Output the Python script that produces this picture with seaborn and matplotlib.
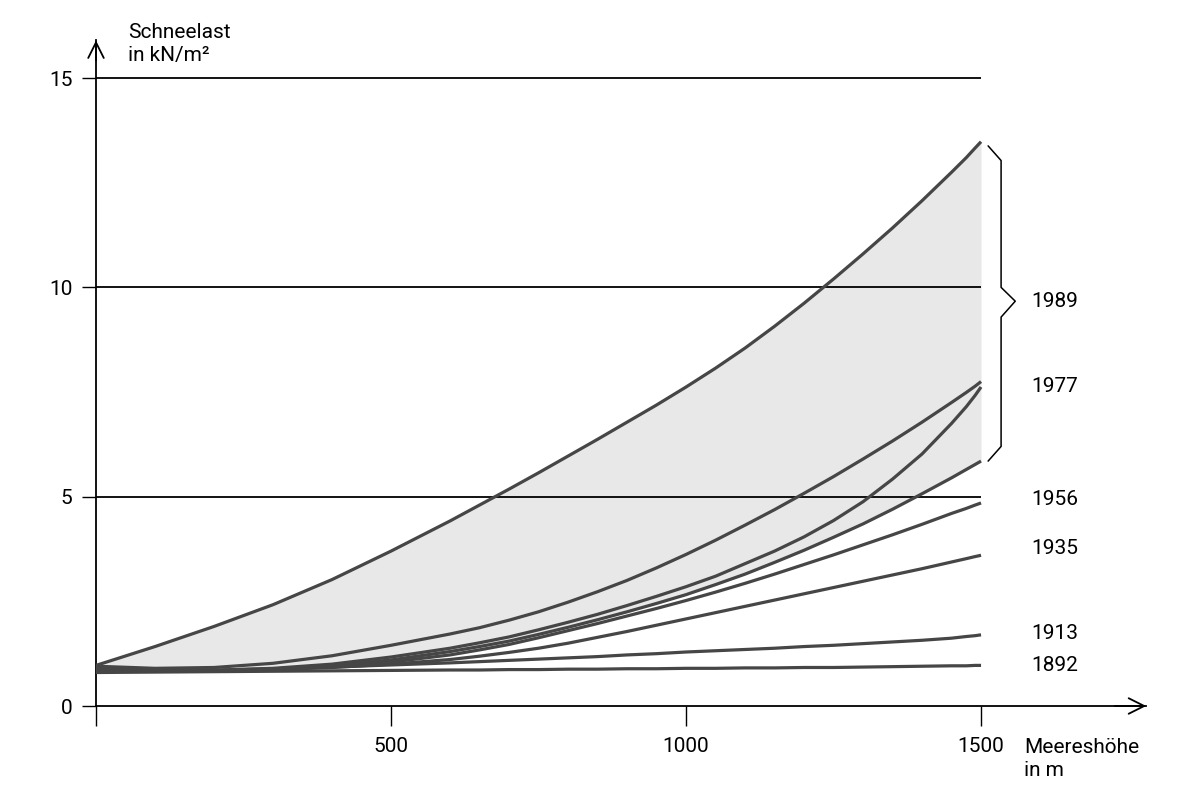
import numpy as np
import pandas as pd
import matplotlib
matplotlib.use('Agg')
import matplotlib.pyplot as plt
import seaborn as sns

# Meereshöhe in m
hoehe = [0, 100, 200, 300, 400, 500, 600,
         650, 700, 750, 800, 850, 900, 950, 1000, 1050, 1100, 1150, 1200,
         1250, 1300, 1350, 1400, 1450,
         1475, 1490, 1500]

# Schneelast in kN/m2
s1989_oben = [0.97, 1.42, 1.90, 2.42, 3.02, 3.70, 4.42,
              4.80, 5.18, 5.57, 5.97, 6.37, 6.78, 7.19, 7.62, 8.07, 8.55, 9.07, 9.62,
              10.20, 10.80, 11.42, 12.07, 12.75,
              13.10, 13.33, 13.48]
s1977_a = [0.95, 0.90, 0.92, 1.02, 1.20, 1.45, 1.72,
           1.87, 2.05, 2.25, 2.48, 2.73, 3.00, 3.30, 3.62, 3.96, 4.32, 4.69, 5.08,
           5.48, 5.90, 6.33, 6.78, 7.25,
           7.49, 7.64, 7.75]
s1977_b = [0.92, 0.86, 0.85, 0.90, 1.00, 1.17, 1.38,
           1.51, 1.65, 1.82, 2.00, 2.19, 2.40, 2.62, 2.85, 3.10, 3.40, 3.70, 4.04,
           4.43, 4.88, 5.42, 6.02, 6.75,
           7.15, 7.42, 7.62]
s1989_unten = [0.90, 0.84, 0.83, 0.86, 0.96, 1.10, 1.30,
               1.42, 1.55, 1.71, 1.88, 2.06, 2.25, 2.45, 2.66, 2.90, 3.15, 3.43, 3.72,
               4.03, 4.35, 4.70, 5.07, 5.45,
               5.65, 5.77, 5.85]
s1956 = [0.88, 0.84, 0.84, 0.88, 0.94, 1.05, 1.22,
         1.34, 1.47, 1.63, 1.80, 1.97, 2.15, 2.33, 2.52, 2.72, 2.93, 3.15, 3.38,
         3.61, 3.85, 4.09, 4.34, 4.60,
         4.72, 4.80, 4.85]
s1935 = [0.85, 0.83, 0.84, 0.87, 0.92, 1.00, 1.11,
         1.19, 1.28, 1.38, 1.50, 1.64, 1.78, 1.93, 2.08, 2.23, 2.38, 2.53, 2.68,
         2.83, 2.98, 3.13, 3.28, 3.44,
         3.52, 3.57, 3.60]
s1913 = [0.83, 0.84, 0.86, 0.89, 0.93, 0.98, 1.03,
         1.06, 1.09, 1.12, 1.15, 1.18, 1.22, 1.25, 1.29, 1.32, 1.35, 1.38, 1.42,
         1.45, 1.49, 1.53, 1.57, 1.62,
         1.66, 1.68, 1.70]
s1892 = [0.80, 0.81, 0.82, 0.83, 0.84, 0.85, 0.86,
         0.86, 0.87, 0.87, 0.88, 0.88, 0.89, 0.89, 0.90, 0.90, 0.91, 0.91, 0.92,
         0.92, 0.93, 0.94, 0.95, 0.96,
         0.96, 0.97, 0.97]

serien = {'1989 oben': s1989_oben, '1977 a': s1977_a, '1977 b': s1977_b,
          '1989 unten': s1989_unten, '1956': s1956, '1935': s1935,
          '1913': s1913, '1892': s1892}

# labels on the right and their heights
jahre = ['1989', '1977', '1956', '1935', '1913', '1892']
label_y = [9.67, 7.64, 4.94, 3.77, 1.72, 0.96]

df = pd.concat([pd.DataFrame({'hoehe': hoehe, 'last': v, 'kurve': k})
                for k, v in serien.items()], ignore_index=True)

sns.set_theme(style='white')
plt.rcParams['font.family'] = ['Roboto', 'DejaVu Sans']
fs = 15

fig = plt.figure(figsize=(12, 8), dpi=100)
ax = fig.add_axes([0.08, 0.1175, 0.8752, 0.832])

linie = '#464646'
ax.fill_between(hoehe, s1989_unten, s1989_oben, color='#e8e8e8', lw=0, zorder=1)

# grid lines
for y in [5, 10, 15]:
    ax.plot([0, 1500], [y, y], color='black', lw=1.3, zorder=2, solid_capstyle='butt')

sns.lineplot(data=df, x='hoehe', y='last', hue='kurve',
             palette=[linie] * len(serien), legend=False, lw=2.3,
             ax=ax, zorder=3, sort=False)
for l in ax.lines[3:]:
    l.set_solid_capstyle('butt')
    l.set_solid_joinstyle('round')

ax.set_xlim(0, 1780)
ax.set_ylim(0, 15.9)
sns.despine(ax=ax)
for s in ['left', 'bottom']:
    ax.spines[s].set_color('black')
    ax.spines[s].set_linewidth(1.3)

ax.set_xticks([0, 500, 1000, 1500])
ax.set_xticklabels(['', '500', '1000', '1500'])
ax.set_yticks([0, 5, 10, 15])
ax.tick_params(axis='x', direction='out', length=14.5, width=1.0, color='black',
               pad=8, labelsize=fs, labelcolor='black', bottom=True)
ax.tick_params(axis='y', direction='out', length=10, width=1.0, color='black',
               pad=7, labelsize=fs, labelcolor='black', left=True)
ax.set_xlabel('')
ax.set_ylabel('')

# arrow heads on the axes
ax.annotate('', xy=(1, 0), xycoords='axes fraction', xytext=(0.97, 0),
            arrowprops=dict(arrowstyle='->', lw=1.3, color='black', mutation_scale=28,
                            shrinkA=0, shrinkB=0))
ax.annotate('', xy=(0, 1), xycoords='axes fraction', xytext=(0, 0.97),
            arrowprops=dict(arrowstyle='->', lw=1.3, color='black', mutation_scale=28,
                            shrinkA=0, shrinkB=0))

# year labels
for j, y in zip(jahre, label_y):
    ax.text(1586, y, j, ha='left', va='center', fontsize=fs, color='black')

# bracket for 1989
top = s1989_oben[-1]
bot = s1989_unten[-1]
mid = label_y[0]
bx = [1512, 1534, 1534, 1558, 1534, 1534, 1512]
by = [top - 0.1, top - 0.45, mid + 0.33, mid, mid - 0.38, bot + 0.35, bot]
ax.plot(bx, by, color='black', lw=1.1, zorder=3, clip_on=False)

fig.text(128 / 1200, 1 - 23 / 800, 'Schneelast\nin kN/m²', ha='left', va='top',
         fontsize=fs, linespacing=1.3, color='black')
fig.text(1024 / 1200, 1 - 738 / 800, 'Meereshöhe\nin m', ha='left', va='top',
         fontsize=fs, linespacing=1.3, color='black')

plt.savefig('out.png', dpi=100)
